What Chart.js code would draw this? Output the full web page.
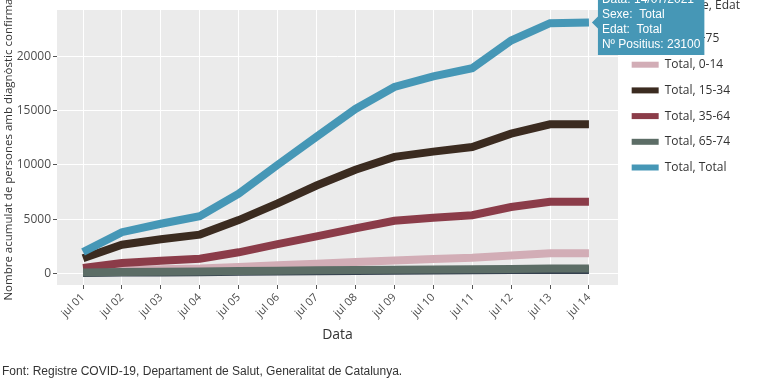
<!DOCTYPE html>
<html>
<head>
<meta charset="utf-8">
<script src="https://cdn.jsdelivr.net/npm/chart.js@4"></script>
<style>
html, body { margin: 0; padding: 0; background: #fff; }
</style>
</head>
<body>
<canvas id="chart" width="768" height="384"></canvas>
<script>
const dateLabels = ['jul 01', 'jul 02', 'jul 03', 'jul 04', 'jul 05', 'jul 06', 'jul 07',
    'jul 08', 'jul 09', 'jul 10', 'jul 11', 'jul 12', 'jul 13', 'jul 14'];
const yTicks = [0, 5000, 10000, 15000, 20000];
const seriesNames = ['Total, +75', 'Total, 0-14', 'Total, 15-34', 'Total, 35-64', 'Total, 65-74', 'Total, Total'];

const over75 = [50, 80, 100, 120, 150, 180, 210, 230, 250, 270, 290, 310, 330, 330];
const age0to14 = [230, 330, 400, 460, 600, 750, 900, 1050, 1200, 1330, 1450, 1650, 1870, 1870];
const age15to34 = [1400, 2650, 3150, 3580, 4920, 6460, 8100, 9550, 10740, 11220, 11650, 12880, 13740, 13740];
const age35to64 = [500, 960, 1180, 1360, 1950, 2700, 3420, 4150, 4850, 5140, 5370, 6120, 6600, 6600];
const age65to74 = [90, 130, 160, 190, 230, 260, 290, 320, 350, 370, 390, 420, 450, 450];
const totalAll = [1980, 3800, 4580, 5280, 7350, 10000, 12600, 15150, 17180, 18150, 18900, 21450, 23050, 23100];

const seriesValues = [over75, age0to14, age15to34, age35to64, age65to74, totalAll];
const seriesColors = ['#34404e', '#d2adb6', '#3b2b20', '#8b3c49', '#5c6d66', '#4697b6'];

const plotBackground = {
    id: 'plotBackground',
    beforeDraw(chart) {
        const { ctx, chartArea } = chart;
        ctx.save();
        ctx.fillStyle = '#ebebeb';
        ctx.fillRect(chartArea.left, chartArea.top, chartArea.right - chartArea.left, chartArea.bottom - chartArea.top);
        ctx.restore();
    }
};

// the hover box in the original sticks out above the top edge
const tooltipShift = {
    id: 'tooltipShift',
    beforeTooltipDraw(chart) {
        chart.ctx.save();
        chart.ctx.translate(0, -10);
    },
    afterTooltipDraw(chart) {
        chart.ctx.restore();
    }
};

const datasets = seriesNames.map((name, i) => ({
    label: name,
    data: seriesValues[i].map((v, j) => ({ x: j + 1, y: v })),
    borderColor: seriesColors[i],
    backgroundColor: seriesColors[i],
    borderWidth: 8,
    pointRadius: 0,
    tension: 0,
    fill: false,
    // later series drawn on top, like the original
    order: seriesNames.length - 1 - i
}));

const chart = new Chart(document.getElementById('chart'), {
    type: 'line',
    data: { datasets },
    plugins: [plotBackground, tooltipShift],
    options: {
        responsive: false,
        animation: false,
        events: [],
        layout: { padding: { left: 2, right: 28, top: 0, bottom: 0 } },
        scales: {
            x: {
                type: 'linear',
                min: 0.331,
                max: 14.746,
                afterBuildTicks: (scale) => { scale.ticks = dateLabels.map((d, i) => ({ value: i + 1 })); },
                afterFit: (scale) => { scale.height = 62; },
                ticks: {
                    callback: (v) => dateLabels[v - 1],
                    minRotation: 45,
                    maxRotation: 45,
                    padding: 2,
                    color: '#4d4d4d',
                    font: { family: 'Open Sans', size: 11 }
                },
                grid: { color: '#ffffff', tickColor: '#555', tickLength: 4, lineWidth: 1 },
                border: { display: false },
                title: {
                    display: true,
                    text: 'Data',
                    color: '#333',
                    font: { family: 'Open Sans', size: 14 },
                    padding: { top: 0, bottom: 4 }
                }
            },
            y: {
                min: -1060,
                max: 24260,
                afterBuildTicks: (scale) => { scale.ticks = yTicks.map(v => ({ value: v })); },
                afterFit: (scale) => { scale.width = 55; },
                ticks: {
                    callback: (v) => String(v),
                    color: '#4d4d4d',
                    font: { family: 'Open Sans', size: 12 },
                    padding: 2
                },
                grid: { color: '#ffffff', tickColor: '#555', tickLength: 4, lineWidth: 1 },
                border: { display: false },
                title: {
                    display: true,
                    text: 'Nombre acumulat de persones amb diagnòstic confirmat',
                    color: '#333',
                    font: { family: 'Open Sans', size: 11.5 },
                    padding: 0
                }
            }
        },
        plugins: {
            title: {
                display: true,
                text: ' ',
                fullSize: false,
                font: { size: 1, lineHeight: 1 },
                padding: { top: 9, bottom: 0 }
            },
            subtitle: {
                display: true,
                position: 'bottom',
                align: 'start',
                text: 'Font: Registre COVID-19, Departament de Salut, Generalitat de Catalunya.',
                color: '#333',
                font: { family: 'Liberation Sans', size: 12 },
                padding: { top: 17, bottom: 5.6 }
            },
            legend: {
                position: 'right',
                align: 'start',
                title: {
                    display: true,
                    text: 'Sexe, Edat',
                    position: 'end',
                    color: '#333',
                    font: { family: 'Open Sans', size: 12 },
                    padding: { top: 0, bottom: 4.9 }
                },
                labels: {
                    boxWidth: 27,
                    boxHeight: 6,
                    padding: 13.7,
                    color: '#333',
                    font: { family: 'Open Sans', size: 12 },
                    sort: (a, b) => a.datasetIndex - b.datasetIndex,
                    generateLabels: (c) => Chart.defaults.plugins.legend.labels.generateLabels(c)
                        .map(item => ({ ...item, lineWidth: 0 }))
                }
            },
            tooltip: {
                xAlign: 'left',
                yAlign: 'center',
                backgroundColor: '#4697b6',
                cornerRadius: 0,
                caretSize: 6,
                caretPadding: 3,
                displayColors: false,
                padding: { top: 2, bottom: 3, left: 4, right: 4 },
                titleFont: { family: 'Liberation Sans', size: 12, weight: 'normal', lineHeight: 1.25 },
                bodyFont: { family: 'Liberation Sans', size: 12, lineHeight: 1.25 },
                titleColor: '#fff',
                bodyColor: '#fff',
                titleMarginBottom: 0,
                titleSpacing: 0,
                bodySpacing: 0,
                callbacks: {
                    title: (items) => {
                        const day = dateLabels[items[0].dataIndex].split(' ')[1];
                        return 'Data: ' + day + '/07/2021';
                    },
                    label: (item) => {
                        const parts = item.dataset.label.split(', ');
                        return ['Sexe:  ' + parts[0], 'Edat:  ' + parts[1], 'Nº Positius: ' + item.parsed.y];
                    }
                }
            }
        }
    }
});

chart.tooltip.setActiveElements([{ datasetIndex: 5, index: 13 }], { x: 0, y: 0 });
chart.update();
</script>
</body>
</html>
